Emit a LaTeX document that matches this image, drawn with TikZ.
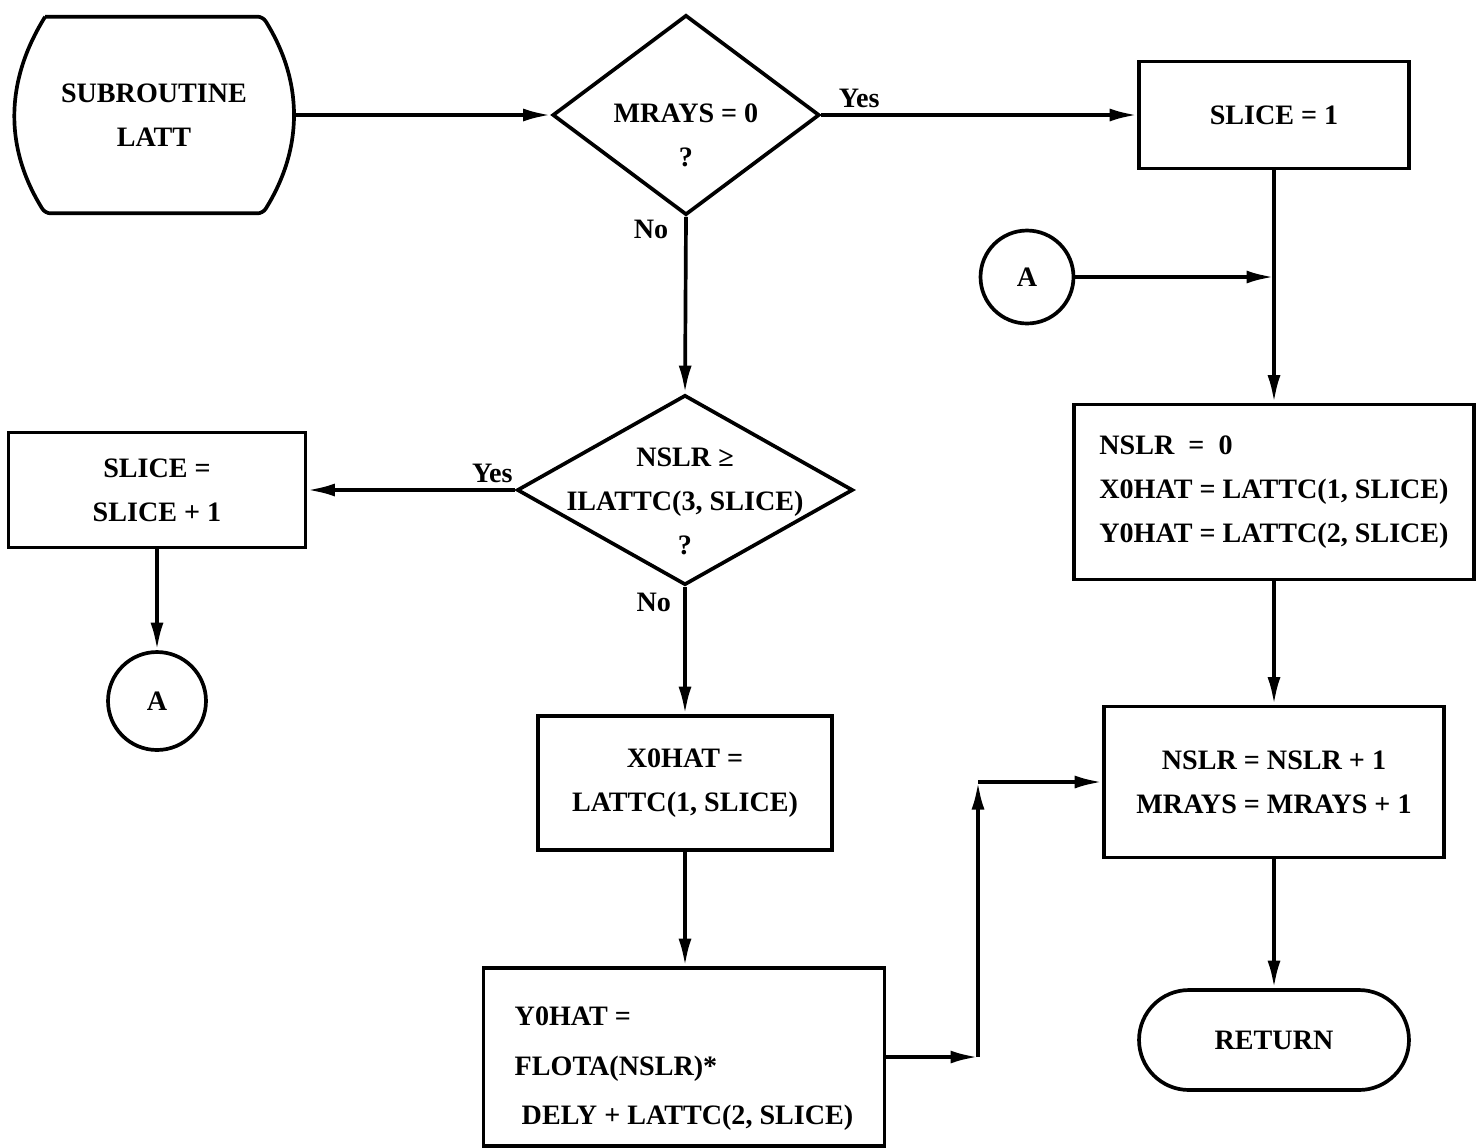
\documentclass[tikz,border=0pt]{standalone}
\usepackage{fontspec}
\setmainfont{Liberation Serif}
\usetikzlibrary{shapes,arrows.meta,positioning}

\begin{document}
\begin{tikzpicture}[
    x=0.02cm, y=-0.02cm,
    font=\fontsize{16}{25}\selectfont\bfseries,
    box/.style={rectangle, draw, line width=2.1pt, align=center},
    decision/.style={diamond, draw, line width=2.1pt, inner sep=0pt},
    connector/.style={circle, draw, line width=2.1pt, minimum size=1.86cm,
                      inner sep=0pt},
    terminal/.style={rectangle, rounded corners=1cm, draw, line width=2.1pt},
    arrow/.style={-{Latex[length=0.55cm,width=0.26cm]}, line width=2.1pt},
    answer/.style={inner sep=3pt}
]
\useasboundingbox (0,0) rectangle (1477,1147);

% start of the subroutine
\node[align=center, minimum width=4.34cm, minimum height=3.92cm] (start) at (154,115)
  {SUBROUTINE\\LATT};
\draw[line width=2.1pt, rounded corners=3pt] (start.north west) -- (start.north east)
  to[bend left=32] (start.south east) -- (start.south west)
  to[bend left=32] (start.north west);
\coordinate (startout) at ([xshift=0.58cm]start.east);

\node[decision, minimum width=5.34cm, minimum height=4cm,
      label={[align=center, yshift=-0.4cm]center:{MRAYS = 0\\?}}] (mrays) at (686,115) {};
\node[box, minimum width=5.4cm, minimum height=2.14cm] (slice1) at (1274,115) {SLICE = 1};
\node[connector] (contA) at (1027,277) {A};
\node[box, align=left, minimum width=8cm, minimum height=3.5cm] (init) at (1274,492)
  {NSLR\ \ =\ \ 0\\X0HAT = LATTC(1, SLICE)\\Y0HAT = LATTC(2, SLICE)};
\node[decision, minimum width=6.72cm, minimum height=3.8cm,
      label={[align=center, yshift=-0.22cm]center:{NSLR ≥\\ILATTC(3, SLICE)\\?}}] (nslr) at (685,490) {};
\node[box, minimum width=5.94cm, minimum height=2.3cm] (nextslice) at (157,490)
  {SLICE =\\SLICE + 1};
\node[connector, minimum size=1.96cm] (gotoA) at (157,701) {A};
\node[box, minimum width=5.88cm, minimum height=2.68cm] (xhat) at (685,783)
  {X0HAT =\\LATTC(1, SLICE)};
\node[box, align=left, minimum width=8.02cm, minimum height=3.56cm,
      font=\fontsize{16}{28}\selectfont\bfseries] (yhat) at (684,1057)
  {\rule{0pt}{24pt}Y0HAT =\\FLOTA(NSLR)*\\\ DELY + LATTC(2, SLICE)};
\node[box, minimum width=6.8cm, minimum height=3.02cm] (update) at (1274,782)
  {NSLR = NSLR + 1\\MRAYS = MRAYS + 1};
\node[terminal, minimum width=5.4cm, minimum height=2cm] (return) at (1274,1040) {RETURN};

\coordinate (jog1) at (978,1057);
\coordinate (jog2) at (978,782);

\draw[arrow] (startout) -- (mrays.west);
\draw[arrow] (mrays.east) -- node[answer, pos=0.12, above] {Yes} (slice1.west);
\draw[arrow] (mrays.south) -- node[answer, pos=0.07, left, xshift=-6pt] {No} (nslr.north);
\draw[arrow] (slice1.south) -- (init.north);
\draw[arrow] (contA.east) -- (contA.east -| slice1.south);
\draw[arrow] (nslr.west) -- node[answer, pos=0.11, above] {Yes} (nextslice.east);
\draw[arrow] (nextslice.south) -- (gotoA.north);
\draw[arrow] (nslr.south) -- node[answer, pos=0.12, left, xshift=-4pt] {No} (xhat.north);
\draw[arrow] (xhat.south) -- (xhat.south |- yhat.north);
\draw[arrow] (yhat.east) -- (jog1);
\draw[arrow] (jog1) -- (jog2);
\draw[arrow] (jog2) -- (update.west);
\draw[arrow] (init.south) -- (update.north);
\draw[arrow] (update.south) -- (return.north);
\end{tikzpicture}
\end{document}
